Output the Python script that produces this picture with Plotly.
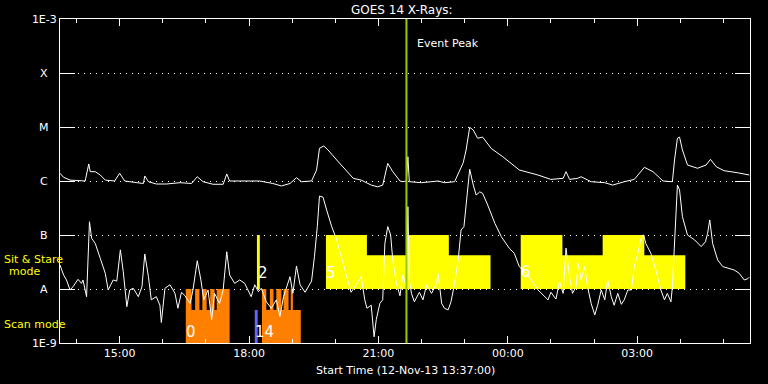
import math
import pandas as pd
import plotly.graph_objects as go

START = pd.Timestamp("2013-11-12 13:37:00")
SPAN_MIN = 960

# GOES long channel (1-8 A), minutes after start / flux W m^-2
long_min = [0, 5, 14, 35, 40, 42, 49, 56, 63, 76, 83, 90, 107, 116, 118, 123, 134, 148, 167, 183,
            191, 199, 213, 227, 232, 236, 260, 278, 296, 308, 320, 329, 336, 350, 357, 361, 367, 373,
            385, 398, 408, 419, 433, 442, 449, 456, 463, 473, 477, 482, 484, 486, 503, 526, 535, 549,
            554, 561, 565, 570, 575, 581, 588, 600, 616, 639, 665, 683, 700, 704, 709, 720, 725, 739,
            758, 769, 785, 799, 813, 825, 839, 852, 855, 859, 862, 866, 873, 887, 899, 905, 913, 924,
            943, 959]
long_flux = [1.39e-6, 1.17e-6, 1.04e-6, 1.0e-6, 2.07e-6, 1.49e-6, 1.49e-6, 1.29e-6, 1.04e-6, 1.0e-6,
             1.39e-6, 1.0e-6, 0.93e-6, 0.9e-6, 1.24e-6, 0.97e-6, 0.88e-6, 0.88e-6, 0.93e-6, 0.9e-6,
             1.2e-6, 0.97e-6, 0.87e-6, 0.87e-6, 1.35e-6, 1.0e-6, 1.0e-6, 1.0e-6, 0.9e-6, 0.81e-6,
             0.9e-6, 1.15e-6, 0.97e-6, 1.0e-6, 1.6e-6, 4.03e-6, 4.45e-6, 3.75e-6, 2.45e-6, 1.6e-6,
             1.12e-6, 1.04e-6, 0.84e-6, 0.78e-6, 0.84e-6, 2.12e-6, 1.49e-6, 1.0e-6, 0.97e-6, 1.0e-6,
             2.82e-6, 0.97e-6, 0.93e-6, 1.0e-6, 0.93e-6, 0.97e-6, 1.39e-6, 2.18e-6, 3.75e-6, 9.86e-6,
             8.8e-6, 6.2e-6, 6.5e-6, 4.0e-6, 2.82e-6, 1.6e-6, 1.29e-6, 1.07e-6, 1.12e-6, 1.49e-6,
             1.07e-6, 1.12e-6, 1.2e-6, 0.97e-6, 0.93e-6, 0.84e-6, 0.97e-6, 1.07e-6, 1.79e-6, 1.49e-6,
             1.0e-6, 0.97e-6, 2.45e-6, 6.2e-6, 6.5e-6, 3.75e-6, 1.98e-6, 1.72e-6, 1.98e-6, 2.52e-6,
             1.84e-6, 1.55e-6, 1.42e-6, 1.29e-6]

# GOES short channel (0.5-4 A)
short_min = [0, 5, 9, 14, 18, 25, 30, 32, 37, 41, 44, 49, 56, 63, 67, 74, 79, 84, 88, 93, 97, 102,
             109, 114, 118, 123, 127, 134, 139, 141, 146, 153, 160, 164, 169, 174, 181, 185, 191, 196,
             200, 206, 211, 215, 222, 227, 232, 236, 243, 250, 257, 262, 266, 271, 276, 280, 287, 294,
             301, 306, 311, 320, 324, 329, 334, 341, 345, 350, 354, 358, 361, 366, 371, 378, 385, 394,
             401, 405, 412, 419, 424, 427, 433, 437, 440, 445, 449, 452, 456, 460, 463, 468, 473, 477,
             482, 484, 486, 489, 493, 500, 505, 510, 517, 524, 526, 531, 535, 540, 544, 549, 554, 558,
             562, 565, 570, 575, 579, 584, 588, 595, 605, 614, 625, 632, 639, 646, 656, 665, 674, 679,
             683, 690, 695, 700, 704, 709, 713, 718, 721, 725, 730, 734, 739, 744, 748, 753, 758, 762,
             767, 771, 776, 781, 785, 790, 795, 799, 804, 809, 812, 815, 822, 829, 836, 841, 845, 850,
             852, 855, 859, 862, 866, 873, 883, 892, 898, 901, 904, 908, 915, 922, 931, 938, 945, 952,
             957, 959]
short_flux = [2.78e-8, 1.82e-8, 1.47e-8, 0.96e-8, 1.1e-8, 1.51e-8, 1.27e-8, 1.47e-8, 0.72e-8, 1.76e-7,
              8.7e-8, 7.0e-8, 3.7e-8, 1.95e-8, 0.96e-8, 1.47e-8, 1.4e-8, 5.3e-8, 2.1e-8, 0.47e-8,
              0.96e-8, 1.03e-8, 0.72e-8, 1.1e-8, 4.45e-8, 1.69e-8, 0.63e-8, 0.72e-8, 0.5e-8, 0.24e-8,
              1.03e-8, 1.2e-8, 0.83e-8, 0.44e-8, 0.87e-8, 0.75e-8, 0.54e-8, 0.96e-8, 3.34e-8, 1.47e-8,
              0.63e-8, 0.96e-8, 0.27e-8, 0.83e-8, 0.54e-8, 0.96e-8, 4.9e-8, 1.82e-8, 1.27e-8, 1.47e-8,
              1.27e-8, 0.96e-8, 0.72e-8, 1.2e-8, 0.89e-8, 1.03e-8, 0.58e-8, 0.44e-8, 0.63e-8, 0.31e-8,
              0.72e-8, 1.69e-8, 0.83e-8, 2.67e-8, 1.2e-8, 0.87e-8, 1.1e-8, 1.4e-8, 3.96e-8, 1.43e-7,
              5.27e-7, 5.0e-7, 2.9e-7, 1.43e-7, 8.1e-8, 3.0e-8, 1.27e-8, 0.87e-8, 1.2e-8, 1.69e-8,
              0.63e-8, 0.44e-8, 0.5e-8, 0.13e-8, 0.27e-8, 0.54e-8, 0.63e-8, 7.0e-8, 1.43e-7, 1.0e-7,
              3.45e-8, 1.27e-8, 0.75e-8, 1.82e-8, 1.1e-8, 3.34e-7, 1.47e-8, 0.83e-8, 0.58e-8, 0.87e-8,
              0.63e-8, 1.19e-8, 0.83e-8, 1.27e-8, 1.95e-8, 0.54e-8, 0.44e-8, 0.41e-8, 0.58e-8, 1.27e-8,
              3.45e-8, 1.24e-7, 1.43e-7, 3.86e-7, 1.65e-6, 8.4e-7, 5.5e-7, 6.3e-7, 5.9e-7, 3.6e-7,
              1.65e-7, 9.3e-8, 5.7e-8, 4.6e-8, 2.6e-8, 2.1e-8, 1.47e-8, 0.96e-8, 0.72e-8, 0.63e-8,
              0.87e-8, 0.65e-8, 1.37e-8, 0.83e-8, 5.7e-8, 1.69e-8, 0.83e-8, 1.1e-8, 3.0e-8, 1.47e-8,
              2.6e-8, 1.1e-8, 0.54e-8, 0.33e-8, 0.5e-8, 0.96e-8, 0.63e-8, 1.47e-8, 0.72e-8, 0.5e-8,
              0.83e-8, 0.52e-8, 0.63e-8, 0.96e-8, 0.96e-8, 2.6e-8, 4.6e-8, 9.3e-8, 1.0e-7, 7.0e-8,
              4.6e-8, 2.25e-8, 0.96e-8, 0.63e-8, 0.83e-8, 0.58e-8, 1.1e-8, 9.3e-8, 8.4e-7, 6.8e-7,
              2.18e-7, 1.0e-7, 8.1e-8, 6.1e-8, 7.5e-8, 1.07e-7, 1.9e-7, 7.0e-8, 3.45e-8, 2.6e-8,
              2.4e-8, 2.25e-8, 1.95e-8, 1.47e-8, 1.55e-8, 1.65e-8]

# Observing-mode blocks: edges (minutes after start) and step tops
ss5_edges = [370, 427, 482, 541, 599]
ss5_tops = [1e-7, 4.2e-8, 1e-7, 4.2e-8]
ss6_edges = [641, 699, 755, 813, 870]
ss6_tops = [1e-7, 4.2e-8, 1e-7, 4.2e-8]
ss2_edges = [274, 278]
ss2_tops = [1e-7]
SS_BASE = 1e-8

scan0_edges = [175, 183, 188, 194, 198, 204, 209, 215, 218, 236]
scan0_tops = [1e-8, 4.1e-9, 1e-8, 4.1e-9, 1e-8, 4.1e-9, 1e-8, 4.1e-9, 1e-8]
scan14_edges = [281, 287, 292, 297, 301, 308, 311, 318, 321, 324, 335]
scan14_tops = [1e-8, 4.1e-9, 1e-8, 4.1e-9, 1e-8, 4.1e-9, 1e-8, 4.1e-9, 1e-8, 4.1e-9]
blue_edges = [271, 275]
blue_tops = [4.1e-9]
SCAN_BASE = 1e-9

mode_label_text = ["0", "14", "2", "5", "6"]
mode_label_min = [182, 284, 283, 377, 648]
mode_label_flux = [1.6e-9, 1.6e-9, 1.98e-8, 1.98e-8, 2.06e-8]

event_peak_min = 482

goes_levels = [1e-9, 1e-8, 1e-7, 1e-6, 1e-5, 1e-4, 1e-3]
goes_letters = ["", "A", "B", "C", "M", "X", ""]
y_ticktext = ["1E-9", "", "", "", "", "", "1E-3"]

major_tick_labels = ["15:00", "18:00", "21:00", "00:00", "03:00"]
major_tick_min = [83, 263, 443, 623, 803]
minor_tick_min = [23 + 60 * i for i in range(16)]


def tm(mins):
    return START + pd.to_timedelta(pd.Series(mins, dtype=float), unit="min")


def step_poly(edges, tops, base):
    xs, ys = [edges[0]], [base]
    for i, t in enumerate(tops):
        xs += [edges[i], edges[i + 1]]
        ys += [t, t]
    xs += [edges[-1], edges[0]]
    ys += [base, base]
    return list(tm(xs)), ys


FONT = "DejaVu Sans"
fig = go.Figure()


def add_block(edges, tops, base, color):
    xs, ys = step_poly(edges, tops, base)
    fig.add_trace(go.Scatter(x=xs, y=ys, mode="lines", fill="toself", fillcolor=color,
                             line=dict(width=0, color=color), hoverinfo="skip", showlegend=False))


add_block(ss5_edges, ss5_tops, SS_BASE, "#ffff00")
add_block(ss6_edges, ss6_tops, SS_BASE, "#ffff00")
add_block(ss2_edges, ss2_tops, SS_BASE, "#ffff00")
add_block(scan0_edges, scan0_tops, SCAN_BASE, "#ff8000")
add_block(scan14_edges, scan14_tops, SCAN_BASE, "#ff8000")
add_block(blue_edges, blue_tops, SCAN_BASE, "#6464ff")

fig.add_trace(go.Scatter(x=tm(long_min), y=long_flux, mode="lines",
                         line=dict(color="white", width=1), showlegend=False))
fig.add_trace(go.Scatter(x=tm(short_min), y=short_flux, mode="lines",
                         line=dict(color="white", width=1), showlegend=False))
fig.add_trace(go.Scatter(x=tm([event_peak_min, event_peak_min]), y=[1e-9, 1e-3], mode="lines",
                         line=dict(color="#99cc00", width=2), showlegend=False))

annotations = []
for txt, m, f in zip(mode_label_text, mode_label_min, mode_label_flux):
    annotations.append(dict(x=tm([m])[0], y=math.log10(f), xref="x", yref="y", text=txt,
                            showarrow=False, font=dict(family=FONT, size=15, color="white"),
                            xanchor="center", yanchor="middle"))
for lvl, letter in zip(goes_levels, goes_letters):
    if letter:
        annotations.append(dict(x=-16 / 690, y=math.log10(lvl), xref="paper", yref="y",
                                text=letter, showarrow=False,
                                font=dict(family=FONT, size=11, color="white"),
                                xanchor="center", yanchor="middle"))
annotations += [
    dict(x=0.5 - 3.5 / 690, y=1 + 9 / 324, xref="paper", yref="paper", text="GOES 14 X-Rays:",
         showarrow=False, font=dict(family=FONT, size=12, color="white"), xanchor="center",
         yanchor="middle"),
    dict(x=0.5, y=-27 / 324, xref="paper", yref="paper", text="Start Time (12-Nov-13 13:37:00)",
         showarrow=False, font=dict(family=FONT, size=11, color="white"), xanchor="center",
         yanchor="middle"),
    dict(x=tm([event_peak_min])[0], y=-3 - 24 / 54, xref="x", yref="y", text="Event Peak",
         xshift=9, showarrow=False, font=dict(family=FONT, size=11, color="white"),
         xanchor="left", yanchor="middle"),
    dict(x=-58 / 690, y=84 / 324, xref="paper", yref="paper", text="Sit &amp; Stare",
         showarrow=False, font=dict(family=FONT, size=11, color="#ffff00"), xanchor="left",
         yanchor="middle"),
    dict(x=-35.5 / 690, y=72 / 324, xref="paper", yref="paper", text="mode",
         showarrow=False, font=dict(family=FONT, size=11, color="#ffff00"), xanchor="center",
         yanchor="middle"),
    dict(x=-58 / 690, y=19 / 324, xref="paper", yref="paper", text="Scan mode",
         showarrow=False, font=dict(family=FONT, size=11, color="#ffff00"), xanchor="left",
         yanchor="middle"),
]

fig.update_layout(
    width=768, height=384,
    margin=dict(l=60, r=18, t=19, b=41),
    paper_bgcolor="black", plot_bgcolor="black",
    font=dict(family=FONT, color="white"),
    showlegend=False,
    annotations=annotations,
    xaxis=dict(type="date", range=[START, START + pd.Timedelta(minutes=SPAN_MIN)],
               showline=True, linecolor="white", linewidth=1, mirror="allticks",
               ticks="inside", ticklen=7, tickcolor="white", tickwidth=1,
               tickvals=list(tm(major_tick_min)), ticktext=major_tick_labels,
               tickfont=dict(family=FONT, size=11, color="white"),
               minor=dict(ticks="inside", ticklen=4, tickcolor="white",
                          tickvals=list(tm(minor_tick_min)), showgrid=False),
               showgrid=False, zeroline=False),
    yaxis=dict(type="log", range=[-9, -3], showline=True, linecolor="white", linewidth=1,
               mirror="allticks", ticks="inside", ticklen=15, tickcolor="white", tickwidth=1,
               tickvals=goes_levels, ticktext=y_ticktext,
               tickfont=dict(family=FONT, size=11, color="white"),
               showgrid=True, gridcolor="white", gridwidth=1, griddash="1px,5px",
               zeroline=False),
)

fig.write_html("out.html")
